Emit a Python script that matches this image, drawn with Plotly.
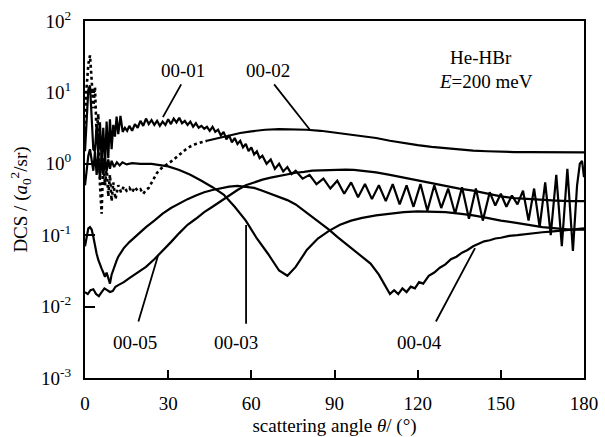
import math
import plotly.graph_objects as go

# ---------------- data ----------------
x01 = [0.0, 0.6, 1.2, 1.8, 2.4, 3.0, 3.6, 4.2, 4.8, 5.4, 6.0, 6.6, 7.2, 7.8, 8.4, 9.0, 9.6, 10.2, 10.8, 11.4,
       12.0, 12.8, 13.6, 14.4, 15.2, 16, 17, 18, 19, 20, 21, 22, 23, 24, 25, 26, 27, 28, 29, 30,
       31, 32, 33, 34, 35, 36, 37, 38, 39, 40, 41, 42, 43, 44, 45, 46, 47, 48, 49, 50,
       51, 52, 53, 54, 55, 56, 57, 58, 59, 60, 61, 62, 63, 64, 65.5, 67, 68.5, 70, 71.5, 73,
       74.5, 76, 78.5, 81, 83.5, 86, 88.5, 91, 93.5, 96, 98.5, 101, 103.5, 106, 108.5, 111, 113.5, 116,
       118.5, 121, 123.5, 126, 128.5, 131, 133.5, 136, 138.5, 141, 143.5, 146, 148, 150, 152, 154,
       156, 158, 160, 162, 164, 166, 168, 170, 172, 174, 176, 177.5, 178.5, 179.3, 180]
y01 = [1.5, 5, 11, 12.5, 4, 1.6, 1.5, 3.5, 1.3, 3.8, 1.1, 3.2, 0.9, 3.9, 1.2, 4.2, 1.6, 3.5, 2.4, 4.6,
       2.6, 4.7, 2.8, 3.2, 2.9, 3.4, 2.9, 3.6, 3.2, 4.0, 3.4, 4.3, 3.6, 4.1, 3.5, 4.0, 3.4, 3.9, 3.5, 4.2,
       3.6, 4.3, 3.8, 4.4, 3.7, 4.0, 3.5, 3.9, 3.3, 3.7, 3.2, 3.4, 3.1, 3.3, 2.9, 3.3, 2.8, 3.0, 2.5, 2.8,
       2.2, 2.5, 2.0, 2.3, 1.9, 2.1, 1.7, 1.9, 1.5, 1.7, 1.35, 1.5, 1.2, 1.3, 1.0, 1.15, 0.85, 1.0, 0.78, 0.9,
       0.72, 0.8, 0.62, 0.7, 0.52, 0.62, 0.45, 0.58, 0.38, 0.55, 0.34, 0.52, 0.32, 0.5, 0.3, 0.52, 0.27, 0.5,
       0.25, 0.52, 0.22, 0.5, 0.24, 0.45, 0.2, 0.47, 0.17, 0.45, 0.16, 0.4, 0.26, 0.38, 0.25, 0.36,
       0.27, 0.42, 0.16, 0.45, 0.13, 0.55, 0.1, 0.7, 0.07, 0.85, 0.06, 0.5, 1.0, 1.1, 0.65]

x02a = [0.0, 0.6, 1.2, 1.8, 2.4, 3.0, 3.6, 4.2, 4.8, 5.4, 6.0, 6.6, 7.2, 7.8, 8.4, 9.0, 9.6, 10.2, 11, 12,
        13, 14, 15, 16, 17, 18, 19, 20, 21, 22, 23, 24, 26, 28, 30, 32, 34, 36, 38, 40, 42, 44]
y02a = [3, 12, 25, 33, 15, 6, 12, 2.5, 5, 0.5, 0.2, 1.2, 0.5, 0.9, 0.35, 0.7, 0.3, 0.55, 0.32, 0.5,
        0.4, 0.48, 0.42, 0.46, 0.4, 0.47, 0.42, 0.44, 0.38, 0.43, 0.46, 0.55, 0.75, 0.9, 1.0, 1.15, 1.35, 1.55,
        1.75, 1.9, 2.0, 2.1]
x02b = [44, 48, 52, 56, 60, 65, 70, 75, 80, 85, 90, 95, 100, 105, 110, 115, 120, 125, 130, 135,
        140, 145, 150, 155, 160, 165, 170, 175, 180]
y02b = [2.1, 2.3, 2.5, 2.7, 2.85, 3.0, 3.05, 3.05, 3.0, 2.9, 2.75, 2.6, 2.45, 2.3, 2.1, 1.95, 1.83, 1.73, 1.65, 1.58,
        1.53, 1.5, 1.47, 1.46, 1.46, 1.45, 1.46, 1.45, 1.45]

x03 = [0.0, 0.6, 1.2, 1.8, 2.4, 3.0, 3.6, 4.2, 4.8, 5.4, 6.0, 6.6, 7.2, 7.8, 8.4, 9.0, 9.6, 10.5, 11.5, 12.5,
       13.5, 15, 17, 20, 24, 27, 30, 34, 38, 42, 46, 50, 54, 58, 62, 66, 70, 73, 76, 80,
       84, 88, 92, 96, 100, 105, 110, 115, 120, 125, 130, 135, 140, 145, 150, 155, 160, 165, 170, 175, 180]
y03 = [0.5, 0.9, 1.3, 1.6, 1.2, 0.8, 1.5, 0.7, 1.4, 0.6, 1.3, 0.7, 1.2, 0.8, 1.15, 0.85, 1.1, 0.9, 1.05, 0.95,
       1.05, 0.98, 1.02, 1.0, 1.0, 0.97, 0.92, 0.82, 0.7, 0.58, 0.47, 0.37, 0.25, 0.16, 0.09, 0.055, 0.032, 0.027, 0.036, 0.062,
       0.09, 0.115, 0.14, 0.16, 0.175, 0.19, 0.2, 0.21, 0.215, 0.215, 0.21, 0.2, 0.19, 0.175, 0.16, 0.15, 0.14, 0.13, 0.125, 0.12, 0.12]

x04 = [0.0, 0.6, 1.2, 1.8, 2.4, 3.0, 3.6, 4.2, 4.8, 5.4, 6.0, 6.6, 7.2, 7.8, 8.4, 9.0, 9.6, 10.2, 10.8, 11.4,
       12, 13, 14, 16, 18, 20, 22, 25, 28, 31, 34, 37, 40, 43, 46, 49, 52, 55, 58, 61,
       64, 67, 70, 73, 76, 79, 82, 85, 88, 91, 94, 97, 100, 103, 106, 108, 110, 111.5, 113, 114.5,
       116, 117.5, 119, 120.5, 122, 124, 126, 128, 130, 132, 134, 136, 138, 140, 142, 144, 146, 148, 150, 153,
       156, 159, 162, 165, 168, 171, 174, 177, 180]
y04 = [0.07, 0.1, 0.125, 0.13, 0.12, 0.095, 0.07, 0.055, 0.045, 0.038, 0.034, 0.03, 0.026, 0.03, 0.024, 0.021, 0.028, 0.033, 0.04, 0.044,
       0.05, 0.058, 0.066, 0.08, 0.095, 0.112, 0.13, 0.16, 0.2, 0.24, 0.28, 0.32, 0.36, 0.4, 0.43, 0.46, 0.48, 0.49, 0.48, 0.46,
       0.42, 0.38, 0.35, 0.31, 0.27, 0.22, 0.18, 0.15, 0.12, 0.095, 0.077, 0.062, 0.05, 0.04, 0.028, 0.02, 0.015, 0.017, 0.015, 0.018,
       0.016, 0.019, 0.018, 0.022, 0.021, 0.027, 0.03, 0.035, 0.039, 0.046, 0.05, 0.057, 0.062, 0.07, 0.076, 0.082, 0.085, 0.09, 0.092, 0.098,
       0.1, 0.104, 0.106, 0.11, 0.112, 0.115, 0.118, 0.12, 0.125]

x05 = [0, 1, 2, 3, 4, 5, 6, 7, 8, 9, 10, 11, 12, 14, 16, 18, 20, 22, 25, 28,
       31, 34, 37, 40, 43, 46, 49, 52, 55, 58, 61, 64, 67, 70, 73, 76, 79, 82, 85, 88,
       91, 94, 97, 100, 105, 110, 115, 120, 125, 130, 135, 140, 145, 150, 155, 160, 165, 170, 175, 180]
y05 = [0.016, 0.015, 0.017, 0.0175, 0.015, 0.014, 0.016, 0.018, 0.017, 0.016, 0.0165, 0.019, 0.02, 0.022, 0.025, 0.028, 0.032, 0.036, 0.046, 0.06,
       0.08, 0.107, 0.14, 0.17, 0.21, 0.25, 0.3, 0.36, 0.43, 0.5, 0.55, 0.6, 0.64, 0.68, 0.72, 0.75, 0.77, 0.8, 0.81, 0.82,
       0.83, 0.83, 0.82, 0.8, 0.76, 0.7, 0.64, 0.59, 0.54, 0.49, 0.45, 0.42, 0.38, 0.35, 0.33, 0.32, 0.31, 0.305, 0.3, 0.3]

# curve labels and their leader lines (angle, DCS)
label_names = ["00-01", "00-02", "00-05", "00-03", "00-04"]
label_x = [35.4, 66.0, 18.0, 54.5, 120.8]
label_y = [20.5, 20.5, 0.0031, 0.0031, 0.0031]
leader_x0 = [35.0, 67.8, 19.1, 58.1, 126.3]
leader_y0 = [13.6, 13.6, 0.0059, 0.0055, 0.0059]
leader_x1 = [28.1, 81.2, 26.3, 58.1, 140.7]
leader_y1 = [4.5, 2.97, 0.051, 0.139, 0.066]

x_ticks = [0, 30, 60, 90, 120, 150, 180]
y_ticks = [1e-3, 1e-2, 1e-1, 1e0, 1e1, 1e2]
y_ticktext = ["10<sup>-3</sup>", "10<sup>-2</sup>", "10<sup>-1</sup>", "10<sup>0</sup>", "10<sup>1</sup>", "10<sup>2</sup>"]

# ---------------- figure ----------------
FONT = "Liberation Serif, Times New Roman, serif"
fig = go.Figure()
solid = dict(color="black", width=2.2)
fig.add_trace(go.Scatter(x=x01, y=y01, mode="lines", line=solid, name="00-01"))
fig.add_trace(go.Scatter(x=x02a, y=y02a, mode="lines", line=dict(color="black", width=2.6, dash="dot"), name="00-02"))
fig.add_trace(go.Scatter(x=x02b, y=y02b, mode="lines", line=solid, name="00-02"))
fig.add_trace(go.Scatter(x=x03, y=y03, mode="lines", line=solid, name="00-03"))
fig.add_trace(go.Scatter(x=x04, y=y04, mode="lines", line=solid, name="00-04"))
fig.add_trace(go.Scatter(x=x05, y=y05, mode="lines", line=solid, name="00-05"))

annotations = []
for t, lx, ly in zip(label_names, label_x, label_y):
    annotations.append(dict(x=lx, y=math.log10(ly), xref="x", yref="y", text=t, showarrow=False,
                            font=dict(family=FONT, size=19, color="black")))
for x0, y0, x1, y1 in zip(leader_x0, leader_y0, leader_x1, leader_y1):
    annotations.append(dict(x=x1, y=math.log10(y1), xref="x", yref="y",
                            ax=x0, ay=math.log10(y0), axref="x", ayref="y",
                            text="", showarrow=True, arrowhead=0, arrowwidth=1.8, arrowcolor="black"))
annotations.append(dict(x=143, y=math.log10(31), xref="x", yref="y", text="He-HBr", showarrow=False,
                        font=dict(family=FONT, size=19, color="black")))
annotations.append(dict(x=144.6, y=math.log10(14.0), xref="x", yref="y", text="<i>E</i>=200 meV", showarrow=False,
                        font=dict(family=FONT, size=19, color="black")))

fig.update_layout(
    width=605, height=437,
    margin=dict(l=85, r=21, t=21, b=59, autoexpand=False),
    paper_bgcolor="white", plot_bgcolor="white",
    showlegend=False,
    font=dict(family=FONT, size=19, color="black"),
    annotations=annotations,
    xaxis=dict(range=[0, 180], tickvals=x_ticks, ticks="inside", ticklen=8, tickwidth=2, tickcolor="black",
               showline=True, linewidth=2, linecolor="black", mirror=True, showgrid=False, zeroline=False,
               ticklabelstandoff=7,
               title=dict(text="scattering angle <i>θ</i>/ (°)", standoff=15, font=dict(family=FONT, size=19))),
    yaxis=dict(type="log", range=[-3, 2], tickvals=y_ticks, ticktext=y_ticktext, ticks="inside", ticklen=10,
               tickwidth=2, tickcolor="black", showline=True, linewidth=2, linecolor="black", mirror=True,
               showgrid=False, zeroline=False, ticklabelstandoff=8,
               title=dict(text="DCS / (<i>a</i><sub>0</sub><sup>2</sup>/sr)", standoff=8, font=dict(family=FONT, size=19))),
)

fig.write_html("out.html", config={"displayModeBar": False},
               post_script="document.body.style.margin='0px';")
